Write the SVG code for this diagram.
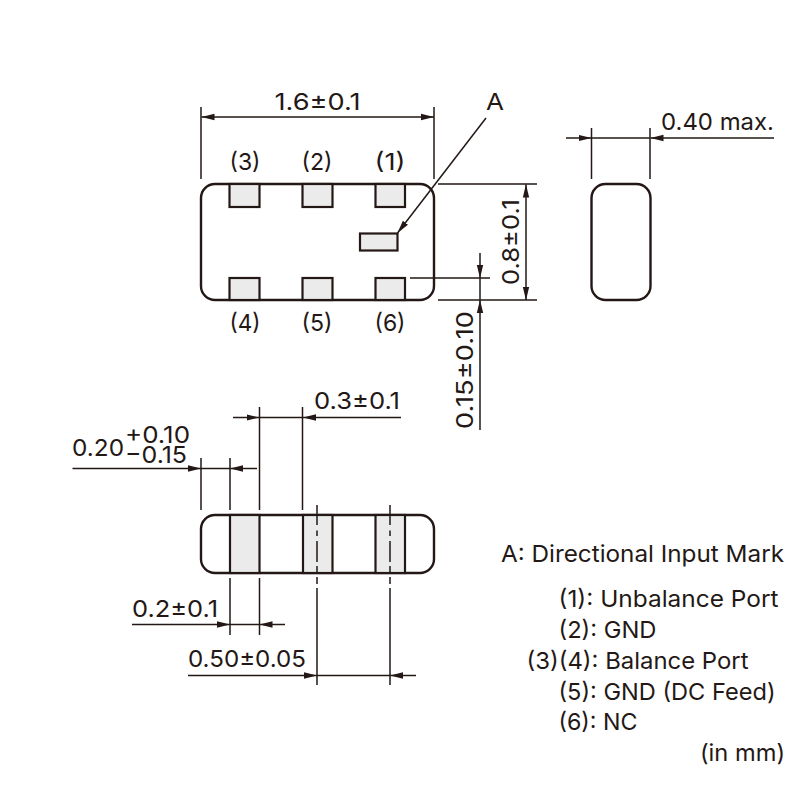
<svg xmlns="http://www.w3.org/2000/svg" width="800" height="800" viewBox="0 0 800 800">
<style>
text{font-family:"Inter","Liberation Sans",sans-serif;font-size:23.500px;fill:#231815}
.body{fill:#fff;stroke:#231815;stroke-width:2.4}
.pad{fill:#ebebeb;stroke:#231815;stroke-width:2.2}
.d{fill:none;stroke:#231815;stroke-width:1.5}
.a{fill:none;stroke:#231815;stroke-width:1.5;marker-end:url(#ah)}
</style>
<defs>
<marker id="ah" markerUnits="userSpaceOnUse" markerWidth="14" markerHeight="8" refX="13" refY="4" orient="auto"><path d="M0 0.8L13 4L0 7.2Z" fill="#231815"/></marker>
</defs>
<g id="top-view">
<rect class="body" x="201" y="184" width="233" height="116" rx="14"/>
<rect class="pad" x="229.500" y="184" width="30" height="23"/>
<rect class="pad" x="302.500" y="184" width="30" height="23"/>
<rect class="pad" x="375.500" y="184" width="29.500" height="23"/>
<rect class="pad" x="229.500" y="278" width="30" height="22"/>
<rect class="pad" x="302.500" y="278" width="30" height="22"/>
<rect class="pad" x="375.500" y="278" width="29.500" height="22"/>
<rect class="pad" x="360" y="233.500" width="37.500" height="17"/>
</g>
<g id="side-view"><rect class="body" x="591.500" y="184" width="59" height="116" rx="14"/></g>
<g id="bottom-view">
<rect class="body" x="201" y="515" width="233" height="58" rx="14"/>
<rect class="pad" x="230" y="515" width="29.500" height="58"/>
<rect class="pad" x="303" y="515" width="29.500" height="58"/>
<rect class="pad" x="375.500" y="515" width="29.500" height="58"/>
</g>
<g id="connectors">
<path class="d" d="M201 107V179M434 107V179M438 184H537M438 300H537M410 278H490M591.500 128V179M650 128V179"/>
<path class="a" d="M317 117H201.500"/><path class="a" d="M317 117H434"/>
<path class="a" d="M486 118L397.500 233"/>
<path class="a" d="M526 242V184.500"/><path class="a" d="M526 242V300"/>
<path class="a" d="M480 253V278"/><path class="a" d="M480 430V300"/><path class="d" d="M480 278V300"/>
<path class="a" d="M566 138H591.500"/><path class="a" d="M774 138H650.500"/>
<path class="d" d="M591.500 138H650"/>
<path class="d" d="M259.500 407V510M302.500 407V510M201 458V510M230 458V510M230 578V635M259.500 578V635"/>
<path class="a" d="M233 417.500H259.500"/><path class="a" d="M401 417.500H303"/><path class="d" d="M259.500 417.500H303"/>
<path class="a" d="M72.500 468.500H201"/><path class="a" d="M257 468.500H230"/><path class="d" d="M201 468.500H230"/>
<path class="a" d="M132 624.500H230"/><path class="a" d="M285 624.500H259.500"/><path class="d" d="M230 624.500H259.500"/>
<path class="d" d="M317 505V525M317 530.500V536M317 541V562M317 566V573M317 577V584M317 588V685"/>
<path class="d" d="M390 505V525M390 530.500V536M390 541V562M390 566V573M390 577V584M390 588V685"/>
<path class="a" d="M188 675.500H317"/><path class="a" d="M416 675.500H390"/><path class="d" d="M317 675.500H390"/>
</g>
<g id="labels">
<text x="274.500" y="110" textLength="86" lengthAdjust="spacingAndGlyphs">1.6±0.1</text>
<text x="486" y="110" textLength="18" lengthAdjust="spacingAndGlyphs">A</text>
<text x="229.500" y="170" textLength="31" lengthAdjust="spacingAndGlyphs">(3)</text><text x="301.500" y="170" textLength="31" lengthAdjust="spacingAndGlyphs">(2)</text><text x="374.500" y="170" textLength="31" lengthAdjust="spacingAndGlyphs">(1)</text>
<text x="229.500" y="331" textLength="31" lengthAdjust="spacingAndGlyphs">(4)</text><text x="301.500" y="331" textLength="31" lengthAdjust="spacingAndGlyphs">(5)</text><text x="374.500" y="331" textLength="31" lengthAdjust="spacingAndGlyphs">(6)</text>
<text transform="translate(519 285) rotate(-90)" textLength="86" lengthAdjust="spacingAndGlyphs">0.8±0.1</text>
<text transform="translate(473 429) rotate(-90)" textLength="118" lengthAdjust="spacingAndGlyphs">0.15±0.10</text>
<text x="661" y="130" textLength="113" lengthAdjust="spacingAndGlyphs">0.40 max.</text>
<text x="314" y="409" textLength="86" lengthAdjust="spacingAndGlyphs">0.3±0.1</text>
<text x="72" y="456" textLength="52" lengthAdjust="spacingAndGlyphs">0.20</text>
<text x="125" y="443" textLength="65" lengthAdjust="spacingAndGlyphs">+0.10</text>
<text x="125" y="463" textLength="62" lengthAdjust="spacingAndGlyphs">−0.15</text>
<text x="132" y="617" textLength="86" lengthAdjust="spacingAndGlyphs">0.2±0.1</text>
<text x="188" y="667" textLength="118" lengthAdjust="spacingAndGlyphs">0.50±0.05</text>
<text x="501" y="562" textLength="283" lengthAdjust="spacingAndGlyphs">A: Directional Input Mark</text>
<text x="558.500" y="607" textLength="220" lengthAdjust="spacingAndGlyphs">(1): Unbalance Port</text>
<text x="558.500" y="638" textLength="98" lengthAdjust="spacingAndGlyphs">(2): GND</text>
<text x="526.500" y="669" textLength="222" lengthAdjust="spacingAndGlyphs">(3)(4): Balance Port</text>
<text x="558.500" y="700" textLength="217" lengthAdjust="spacingAndGlyphs">(5): GND (DC Feed)</text>
<text x="558.500" y="730" textLength="79" lengthAdjust="spacingAndGlyphs">(6): NC</text>
<text x="700" y="761" textLength="85" lengthAdjust="spacingAndGlyphs">(in mm)</text>
</g>
</svg>
